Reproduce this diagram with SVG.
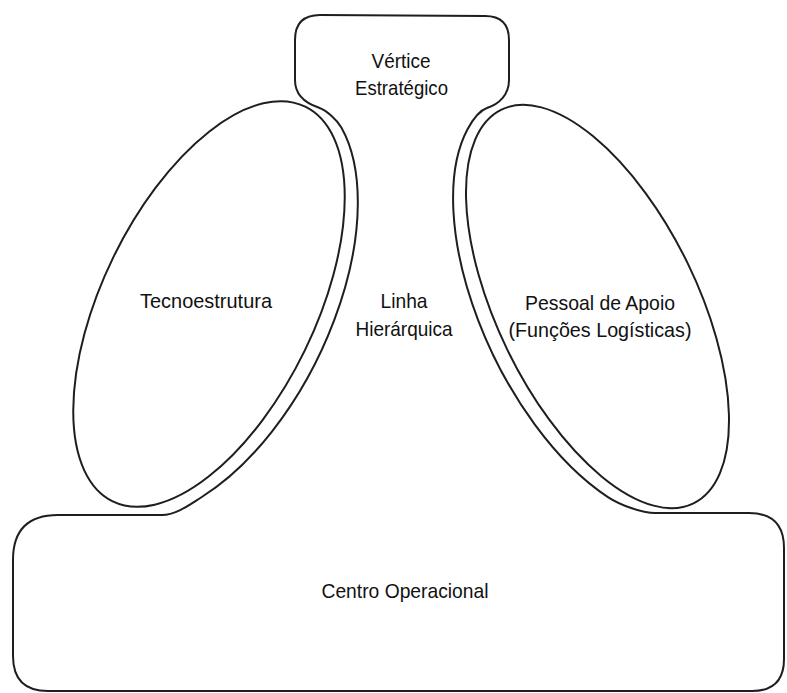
<svg xmlns="http://www.w3.org/2000/svg" width="787" height="693" viewBox="0 0 787 693">
  <style>
    .shape { fill: none; stroke: #1e1e1e; stroke-width: 2; stroke-linejoin: round; }
    .lbl { font-family: "Liberation Sans", Arial, sans-serif; font-size: 21px; fill: #111; text-anchor: middle; }
  </style>
  <rect x="0" y="0" width="787" height="693" fill="#ffffff"/>
  <g id="outline-apex-middle-core">
    <path class="shape" d="M 295,60 L 295,80 C 295,95 305,103 318.5,107.5 C 327,110.5 337.4,120.5 341.35,127.45 A 121.5 230.6 26 0 1 201.8,497 C 189.9,504.4 176,515 162,515 L 58,515 Q 13,515 13,560 L 13,656 Q 13,691 48,691 L 752,691 Q 784,691 784,659 L 784,548 Q 784,513 749,513 L 655,513 C 642,513 620,504.9 608.3,497.3 A 115 230 -26 0 1 467.4,129.5 C 471.2,122.4 478,111 487,108 C 499,104 509,95 509,80 L 509,40 Q 509,16 485,16 L 320,15 Q 295,15 295,40 Z"/>
  </g>
  <g id="vertice-estrategico">
    <text class="lbl" x="401" y="68" textLength="59" lengthAdjust="spacingAndGlyphs">Vértice</text>
    <text class="lbl" x="401.5" y="95" textLength="93" lengthAdjust="spacingAndGlyphs">Estratégico</text>
  </g>
  <g id="tecnoestrutura">
    <ellipse class="shape" cx="209" cy="304" rx="106.5" ry="219.6" transform="rotate(26 209 304)"/>
    <text class="lbl" x="206" y="308" textLength="132" lengthAdjust="spacingAndGlyphs">Tecnoestrutura</text>
  </g>
  <g id="linha-hierarquica">
    <text class="lbl" x="404" y="308" textLength="47" lengthAdjust="spacingAndGlyphs">Linha</text>
    <text class="lbl" x="404" y="336" textLength="97" lengthAdjust="spacingAndGlyphs">Hierárquica</text>
  </g>
  <g id="pessoal-de-apoio">
    <ellipse class="shape" cx="597.5" cy="306.5" rx="100" ry="219" transform="rotate(-26 597.5 306.5)"/>
    <text class="lbl" x="600" y="310" textLength="150" lengthAdjust="spacingAndGlyphs">Pessoal de Apoio</text>
    <text class="lbl" x="600" y="337" textLength="183" lengthAdjust="spacingAndGlyphs">(Funções Logísticas)</text>
  </g>
  <g id="centro-operacional">
    <text class="lbl" x="405" y="598" textLength="167" lengthAdjust="spacingAndGlyphs">Centro Operacional</text>
  </g>
  <g id="connectors"/>
</svg>
